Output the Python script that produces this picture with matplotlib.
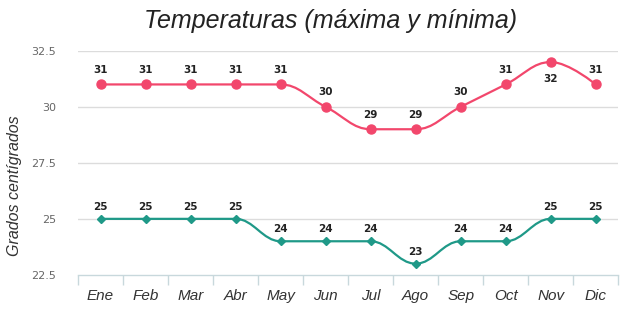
import matplotlib
matplotlib.use("Agg")
import matplotlib.pyplot as plt
from matplotlib.path import Path
from matplotlib.patches import PathPatch

meses = ["Ene", "Feb", "Mar", "Abr", "May", "Jun",
         "Jul", "Ago", "Sep", "Oct", "Nov", "Dic"]
maxima = [31, 31, 31, 31, 31, 30, 29, 29, 30, 31, 32, 31]
minima = [25, 25, 25, 25, 24, 24, 24, 23, 24, 24, 25, 25]
yticks = [22.5, 25, 27.5, 30, 32.5]

RED = "#f2476c"
TEAL = "#1f9988"
AXIS = "#c8d8dc"
GRID = "#dcdcdc"
SANS = ["Liberation Sans", "DejaVu Sans"]


def spline_path(xs, ys, smoothing=1.5):
    # smooth curve through the points, flat at local extremes
    n = len(xs)
    ctrl = [None] * n
    for i in range(1, n - 1):
        lx, ly = xs[i - 1], ys[i - 1]
        px, py = xs[i], ys[i]
        nx, ny = xs[i + 1], ys[i + 1]
        d = smoothing + 1
        lcx = (smoothing * px + lx) / d
        lcy = (smoothing * py + ly) / d
        rcx = (smoothing * px + nx) / d
        rcy = (smoothing * py + ny) / d
        if rcx != lcx:
            corr = (rcy - lcy) * (rcx - px) / (rcx - lcx) + py - rcy
            lcy += corr
            rcy += corr
        if lcy > ly and lcy > py:
            lcy = max(ly, py); rcy = 2 * py - lcy
        elif lcy < ly and lcy < py:
            lcy = min(ly, py); rcy = 2 * py - lcy
        if rcy > ny and rcy > py:
            rcy = max(ny, py); lcy = 2 * py - rcy
        elif rcy < ny and rcy < py:
            rcy = min(ny, py); lcy = 2 * py - rcy
        ctrl[i] = ((lcx, lcy), (rcx, rcy))
    verts = [(xs[0], ys[0])]
    codes = [Path.MOVETO]
    for i in range(1, n):
        c1 = ctrl[i - 1][1] if ctrl[i - 1] else (xs[i - 1], ys[i - 1])
        c2 = ctrl[i][0] if ctrl[i] else (xs[i], ys[i])
        verts += [c1, c2, (xs[i], ys[i])]
        codes += [Path.CURVE4] * 3
    return Path(verts, codes)


fig = plt.figure(figsize=(6.4, 3.28), dpi=100)
ax = fig.add_axes([0.122, 0.162, 0.844, 0.683])
x = list(range(len(meses)))

for yv in yticks[1:]:
    ax.axhline(yv, color=GRID, lw=1, zorder=0)

ax.add_patch(PathPatch(spline_path(x, maxima), fill=False, color=RED, lw=1.6, zorder=2))
ax.add_patch(PathPatch(spline_path(x, minima), fill=False, color=TEAL, lw=1.6, zorder=2))
ax.plot(x, maxima, "o", color=RED, ms=6.5, zorder=3)
ax.plot(x, minima, "D", color=TEAL, ms=4.5, zorder=3)

for i, v in enumerate(maxima):
    off = -16 if i == 10 else 7
    ax.annotate(str(v), (i, v), xytext=(0, off), textcoords="offset points",
                ha="center", va="bottom", fontsize=7.5, fontweight="bold", color="#222222")
for i, v in enumerate(minima):
    ax.annotate(str(v), (i, v), xytext=(0, 5), textcoords="offset points",
                ha="center", va="bottom", fontsize=7.5, fontweight="bold", color="#222222")

ax.set_xlim(-0.5, len(meses) - 0.5)
ax.set_ylim(22.5, 32.5)
ax.set_yticks(yticks)
ax.set_yticklabels(["22.5", "25", "27.5", "30", "32.5"], fontsize=8, color="#666666")
ax.tick_params(axis="y", length=0, pad=16)

ax.set_xticks(x)
ax.set_xticklabels(meses, fontsize=11, style="italic", color="#333333", family=SANS)
ax.set_xticks([i - 0.5 for i in range(len(meses) + 1)], minor=True)
ax.tick_params(axis="x", which="major", length=0, pad=10)
ax.tick_params(axis="x", which="minor", length=7.5, color=AXIS, width=1)

for s in ["top", "right", "left"]:
    ax.spines[s].set_visible(False)
ax.spines["bottom"].set_color(AXIS)
ax.spines["bottom"].set_linewidth(1)

ax.set_ylabel("Grados centígrados", fontsize=11.5, style="italic", color="#333333",
              family=SANS, va="center")
ax.yaxis.set_label_coords(-0.117, 0.40)
fig.text(0.516, 0.935, "Temperaturas (máxima y mínima)", ha="center", va="center",
         fontsize=18, style="italic", color="#222222", family=SANS)

fig.savefig("out.png", dpi=100)
